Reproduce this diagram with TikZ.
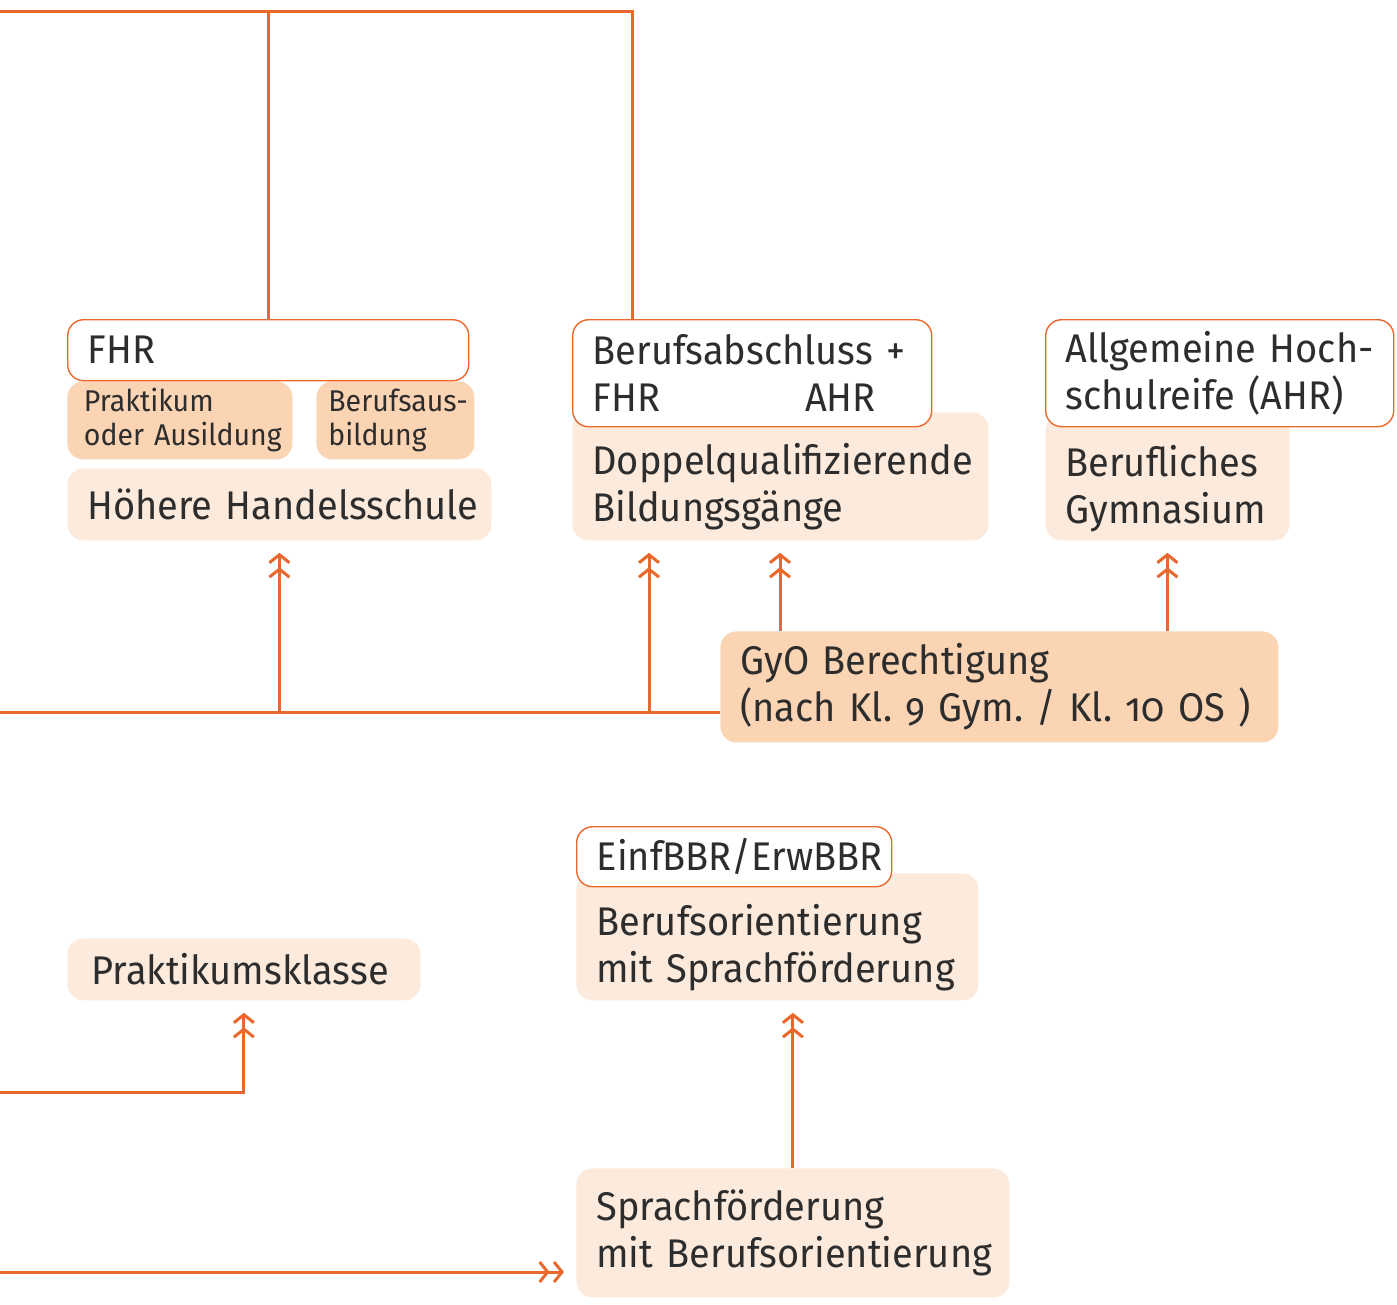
\documentclass[tikz,border=0pt]{standalone}
\usepackage{fontspec}
\setmainfont{Fira Sans}[Numbers=OldStyle,FakeStretch=0.95]
\usetikzlibrary{arrows.meta,positioning}
\definecolor{lineor}{RGB}{233,104,44}
\definecolor{darkfill}{RGB}{251,212,180}
\definecolor{lightfill}{RGB}{252,234,220}
\definecolor{ink}{RGB}{45,45,45}
\hyphenpenalty=10000
\exhyphenpenalty=10000
\frenchspacing
\tikzset{
  box/.style={rounded corners=8pt, anchor=north west, align=left, inner xsep=10pt,
    text=ink, font=\fontsize{20}{23.5}\selectfont},
  small/.style={font=\fontsize{15}{17}\selectfont},
  lite/.style={box, fill=lightfill},
  dark/.style={box, fill=darkfill},
  white/.style={box, fill=white, draw=lineor, line width=0.7pt},
  pushdown/.style={execute at begin node={\rule{0pt}{26pt}}},
  line/.style={draw=lineor, line width=1.5pt},
  chev/.style={line, shorten >=6pt,
    -{Straight Barb[length=4pt,width=10pt,sep=1.5pt]Straight Barb[length=4pt,width=10pt]}}
}
\begin{document}
\begin{tikzpicture}[x=0.5pt,y=-0.5pt]
  \useasboundingbox (0,0) rectangle (1397,1305);
  % upper row
  \node[dark,small,minimum width=112.5pt,minimum height=39pt,text width=96pt,inner xsep=8.25pt] (prak) at (67,381) {Praktikum\\oder~Ausildung};
  \node[dark,small,minimum width=79pt,minimum height=39pt,text width=67pt,inner xsep=6pt] (ausb) at (316,381) {Berufsaus-\\bildung};
  \node[white,minimum width=200.5pt,minimum height=30.5pt,text width=180.5pt] (fhr) at (67,319) {FHR};
  \node[lite,minimum width=212pt,minimum height=36pt,text width=192pt] (hhs) at (67,468) {Höhere~Handelsschule};
  \node[lite,pushdown,minimum width=208pt,minimum height=64pt,text width=188pt] (dq) at (572,412) {Doppelqualifizierende\\Bildungsgänge};
  \node[white,minimum width=179.5pt,minimum height=53.5pt,text width=159.5pt] (bfa) at (572,319) {Berufsabschluss~+\\FHR\hspace{72.5pt}AHR};
  \node[lite,pushdown,minimum width=122pt,minimum height=62.5pt,text width=102pt] (bg) at (1045,415) {Berufliches\\Gymnasium};
  \node[white,minimum width=174pt,minimum height=53.5pt,text width=154pt] (ahr) at (1045,319) {Allgemeine~Hoch-\\schulreife~(AHR)};
  \node[dark,minimum width=279pt,minimum height=55.5pt,text width=259pt] (gyo) at (720,631) {GyO~Berechtigung\\(nach~Kl.~9~Gym.~/~Kl.~10~OS~)};
  % lower row
  \node[lite,pushdown,minimum width=201pt,minimum height=63.5pt,text width=181pt] (bo) at (576,873) {Berufsorientierung\\mit~Sprachförderung};
  \node[white,minimum width=157.5pt,minimum height=30pt,text width=137.5pt] (bbr) at (576,826) {EinfBBR/ErwBBR};
  \node[lite,minimum width=172.5pt,minimum height=31pt,text width=152.5pt,inner xsep=12pt] (pk) at (67,938) {Praktikumsklasse};
  \node[lite,minimum width=216.5pt,minimum height=64.5pt,text width=196.5pt] (sf) at (576,1168) {Sprachförderung\\mit~Berufsorientierung};
  % free ends at the left margin
  \coordinate (top) at (0,12);
  \coordinate (mid) at (0,712);
  \coordinate (low) at (0,1092);
  \coordinate (bot) at (0,1272);
  % connectors
  \draw[line] (top) -| ([xshift=30pt]bfa.north west);
  \draw[line] (fhr.north) -- (fhr.north |- top);
  \draw[line] (mid) -- (mid -| gyo.west);
  \draw[chev] (mid -| hhs.south) -- (hhs.south);
  \draw[chev] ([xshift=38.5pt]dq.south west |- mid) -- ([xshift=38.5pt]dq.south west);
  \draw[chev] ([xshift=30pt]gyo.north west) -- ([xshift=30pt]gyo.north west |- dq.south);
  \draw[chev] (bg.south |- gyo.north) -- (bg.south);
  \draw[chev] (low) -| (pk.south);
  \draw[chev] (sf.north) -- (sf.north |- bo.south);
  \draw[chev] (bot) -- (bot -| sf.west);
\end{tikzpicture}
\end{document}
